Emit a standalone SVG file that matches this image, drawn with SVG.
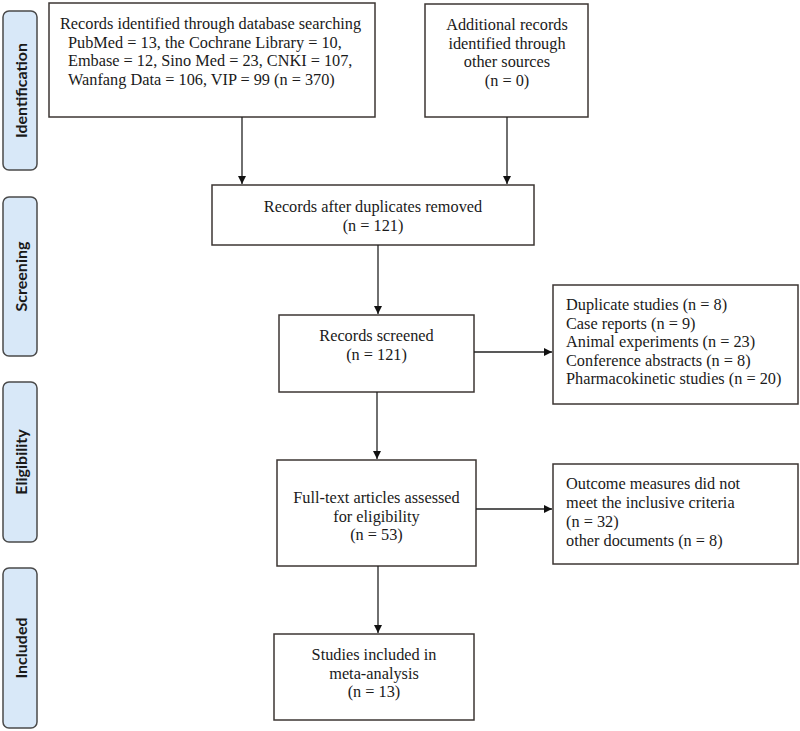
<svg xmlns="http://www.w3.org/2000/svg" width="800" height="731" viewBox="0 0 800 731">
<defs>
<style>
.side{fill:#d8e8f8;stroke:#4a4a4a;stroke-width:1.5}
.sl{font-family:Lato,"Open Sans",sans-serif;font-weight:bold;font-size:16px;fill:#1a1a1a;text-anchor:middle;dominant-baseline:central}
.box{fill:#fff;stroke:#3c3633;stroke-width:1.5}
.t{font-family:"Liberation Serif","Times New Roman",serif;font-size:16.3px;fill:#1a1a1a}
.c{text-anchor:middle}
.ln{stroke:#222;stroke-width:1.3;fill:none}
</style>
<marker id="ah" viewBox="0 0 10 10" refX="10" refY="5" markerWidth="8" markerHeight="8" markerUnits="userSpaceOnUse" orient="auto">
<path d="M0,0 L10,5 L0,10 z" fill="#111"/>
</marker>
</defs>
<rect width="800" height="731" fill="#fff"/>

<g id="stage-identification">
<rect class="side" x="3" y="11" width="34" height="159" rx="6"/>
<text class="sl" transform="translate(20,90.5) rotate(-90)">Identification</text>
</g>
<g id="stage-screening">
<rect class="side" x="3" y="197" width="34" height="159" rx="6"/>
<text class="sl" transform="translate(20,276.5) rotate(-90)">Screening</text>
</g>
<g id="stage-eligibility">
<rect class="side" x="3" y="382" width="34" height="160" rx="6"/>
<text class="sl" transform="translate(20,462) rotate(-90)">Eligibility</text>
</g>
<g id="stage-included">
<rect class="side" x="3" y="568" width="34" height="160" rx="6"/>
<text class="sl" transform="translate(20,648) rotate(-90)">Included</text>
</g>

<g id="n-database">
<rect class="box" x="49" y="3" width="326" height="114"/>
<text class="t" x="60" y="29">Records identified through database searching</text>
<text class="t" x="68" y="47.5">PubMed = 13, the Cochrane Library = 10,</text>
<text class="t" x="68" y="66">Embase = 12, Sino Med = 23, CNKI = 107,</text>
<text class="t" x="68" y="84.5">Wanfang Data = 106, VIP = 99 (n = 370)</text>
</g>

<g id="n-other">
<rect class="box" x="425" y="4" width="163" height="113"/>
<text class="t c" x="507" y="30">Additional records</text>
<text class="t c" x="507" y="48.5">identified through</text>
<text class="t c" x="507" y="67">other sources</text>
<text class="t c" x="507" y="85.5">(n = 0)</text>
</g>

<g id="n-dedup">
<rect class="box" x="212" y="185" width="322" height="60"/>
<text class="t c" x="373" y="212">Records after duplicates removed</text>
<text class="t c" x="373" y="230.5">(n = 121)</text>
</g>

<g id="n-screened">
<rect class="box" x="279" y="315" width="195" height="77"/>
<text class="t c" x="376.5" y="341">Records screened</text>
<text class="t c" x="376.5" y="359.5">(n = 121)</text>
</g>

<g id="n-excluded1">
<rect class="box" x="553" y="285" width="245" height="119"/>
<text class="t" x="566" y="310">Duplicate studies (n = 8)</text>
<text class="t" x="566" y="328.5">Case reports (n = 9)</text>
<text class="t" x="566" y="347">Animal experiments (n = 23)</text>
<text class="t" x="566" y="365.5">Conference abstracts (n = 8)</text>
<text class="t" x="566" y="384">Pharmacokinetic studies (n = 20)</text>
</g>

<g id="n-fulltext">
<rect class="box" x="277" y="460" width="199" height="106"/>
<text class="t c" x="376.5" y="503">Full-text articles assessed</text>
<text class="t c" x="376.5" y="521.5">for eligibility</text>
<text class="t c" x="376.5" y="540">(n = 53)</text>
</g>

<g id="n-excluded2">
<rect class="box" x="553" y="464" width="245" height="100"/>
<text class="t" x="566" y="489">Outcome measures did not</text>
<text class="t" x="566" y="508">meet the inclusive criteria</text>
<text class="t" x="566" y="527">(n = 32)</text>
<text class="t" x="566" y="546">other documents (n = 8)</text>
</g>

<g id="n-included">
<rect class="box" x="274" y="634" width="200" height="86"/>
<text class="t c" x="374" y="660">Studies included in</text>
<text class="t c" x="374" y="678.5">meta-analysis</text>
<text class="t c" x="374" y="697">(n = 13)</text>
</g>

<g id="connectors">
<line class="ln" x1="242" y1="117" x2="242" y2="184" marker-end="url(#ah)"/>
<line class="ln" x1="507" y1="117" x2="507" y2="184" marker-end="url(#ah)"/>
<line class="ln" x1="378" y1="245" x2="378" y2="314" marker-end="url(#ah)"/>
<line class="ln" x1="474" y1="352" x2="552" y2="352" marker-end="url(#ah)"/>
<line class="ln" x1="377" y1="392" x2="377" y2="459" marker-end="url(#ah)"/>
<line class="ln" x1="476" y1="509" x2="552" y2="509" marker-end="url(#ah)"/>
<line class="ln" x1="378" y1="566" x2="378" y2="633" marker-end="url(#ah)"/>
</g>
</svg>
